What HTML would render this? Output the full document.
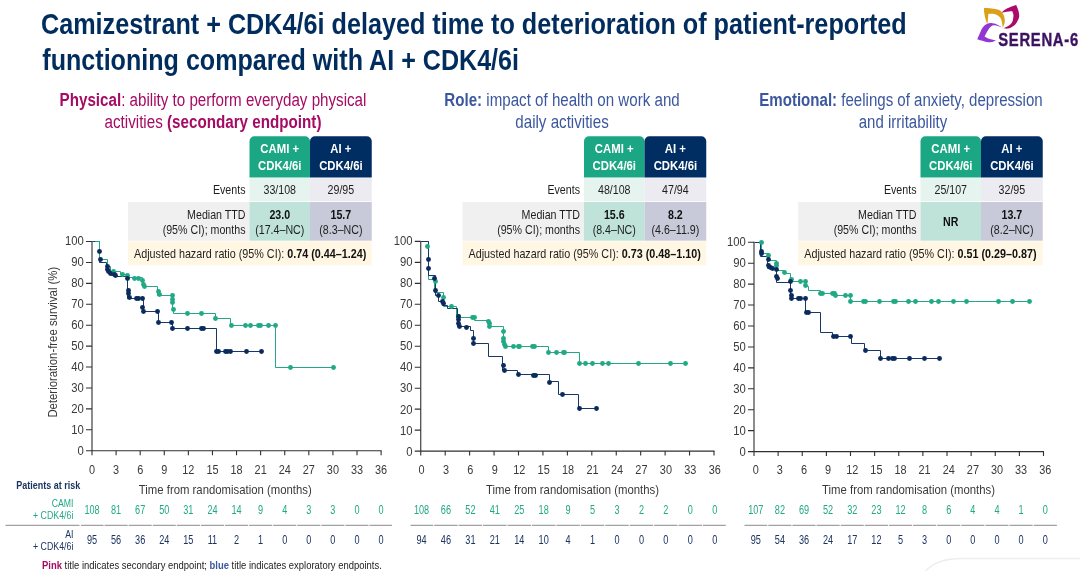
<!DOCTYPE html>
<html><head><meta charset="utf-8"><title>SERENA-6</title>
<style>html,body{margin:0;padding:0;background:#fff}body{width:1080px;height:571px;overflow:hidden}
svg{display:block;font-family:"Liberation Sans",Arial,sans-serif}</style></head>
<body><svg width="1080" height="571" viewBox="0 0 1080 571">
<text transform="translate(41.00 34.30) scale(0.8371 1)" font-size="30.1" text-anchor="start" fill="#012c5e"><tspan font-weight="700">Camizestrant + CDK4/6i delayed time to deterioration of patient-reported</tspan></text>
<text transform="translate(42.30 69.50) scale(0.8344 1)" font-size="30.1" text-anchor="start" fill="#012c5e"><tspan font-weight="700">functioning compared with AI + CDK4/6i</tspan></text>
<g id="logo">
<path d="M977.28 39.25C977.75 38.18 979.15 34.81 980.08 32.81C981.02 30.80 981.76 28.68 982.89 27.20C984.01 25.73 985.41 24.66 986.81 23.96C988.21 23.25 989.61 22.93 991.29 23.00C992.97 23.08 995.04 23.64 996.89 24.40C998.74 25.17 1001.47 27.06 1002.38 27.60C1001.65 27.32 999.49 26.30 998.01 25.92C996.54 25.53 994.84 25.08 993.53 25.30C992.22 25.51 991.20 26.23 990.17 27.20C989.14 28.18 988.30 29.59 987.37 31.13C986.43 32.67 985.03 35.56 984.57 36.45C985.31 36.82 987.09 38.04 989.05 38.69C991.01 39.34 995.12 40.09 996.33 40.37C995.68 40.65 994.00 41.80 992.41 42.05C990.82 42.30 988.67 42.14 986.81 41.88C984.94 41.62 982.79 40.92 981.20 40.48C979.62 40.04 977.94 39.45 977.28 39.25Z" fill="#9436d2"/>
<path d="M983.96 8.12C985.27 8.17 989.38 8.12 991.81 8.40C994.23 8.68 996.80 9.10 998.53 9.80C1000.26 10.50 1001.22 11.44 1002.17 12.61C1003.12 13.77 1003.82 15.17 1004.24 16.81C1004.66 18.44 1004.94 20.59 1004.69 22.41C1004.44 24.23 1003.06 26.84 1002.73 27.73C1002.61 26.84 1002.38 24.04 1002.00 22.41C1001.63 20.77 1001.26 19.12 1000.49 17.93C999.72 16.73 998.67 15.92 997.41 15.24C996.15 14.56 994.42 14.06 992.93 13.84C991.43 13.61 989.19 13.88 988.45 13.89C988.37 14.57 988.13 16.51 988.00 17.93C987.87 19.35 987.82 21.46 987.66 22.41C987.50 23.36 987.15 23.44 987.04 23.64C986.76 22.78 985.83 20.28 985.36 18.49C984.90 16.69 984.48 14.61 984.24 12.89C984.01 11.16 984.01 8.92 983.96 8.12Z" fill="#dba017"/>
<path d="M1001.89 12.21C1002.45 11.76 1003.76 10.44 1005.25 9.52C1006.75 8.61 1009.03 7.49 1010.85 6.72C1012.68 5.96 1015.29 5.23 1016.18 4.93C1016.52 5.79 1017.75 8.10 1018.25 10.08C1018.74 12.06 1019.40 14.75 1019.15 16.81C1018.89 18.86 1017.75 20.82 1016.74 22.41C1015.73 24.00 1014.54 25.30 1013.10 26.33C1011.65 27.36 1009.73 28.24 1008.05 28.57C1006.37 28.91 1003.85 28.38 1003.01 28.35C1003.94 27.92 1007.12 26.76 1008.61 25.77C1010.11 24.78 1011.21 23.72 1011.97 22.41C1012.74 21.10 1012.97 19.23 1013.21 17.93C1013.44 16.62 1013.53 15.69 1013.38 14.57C1013.22 13.45 1012.44 11.76 1012.25 11.20C1011.65 11.25 1009.78 11.35 1008.61 11.48C1007.45 11.62 1006.37 11.79 1005.25 11.99C1004.13 12.18 1002.45 12.55 1001.89 12.66Z" fill="#ab0a69"/>
</g>
<text transform="translate(998.2 45.6) scale(0.785 1)" font-size="18.9" font-weight="700" fill="#3c1361" stroke="#3c1361" stroke-width="0.4" letter-spacing="0.9">SERENA-6</text>
<text transform="translate(213.00 105.80) scale(0.8622 1)" font-size="17.6" text-anchor="middle" fill="#a50a64"><tspan font-weight="700">Physical</tspan>: ability to perform everyday physical</text>
<text transform="translate(213.00 127.60) scale(0.8634 1)" font-size="17.6" text-anchor="middle" fill="#a50a64">activities <tspan font-weight="700">(secondary endpoint)</tspan></text>
<path d="M249.5 177.5V141.25a5 5 0 0 1 5 -5H305a5 5 0 0 1 5 5V177.5Z" fill="#1ca784"/>
<path d="M310 177.5V141.25a5 5 0 0 1 5 -5H366.75a5 5 0 0 1 5 5V177.5Z" fill="#002d62"/>
<rect x="249.50" y="178.20" width="60.50" height="23.00" fill="#e6f4ef"/>
<rect x="310.00" y="178.20" width="61.75" height="23.00" fill="#ebebf1"/>
<rect x="128.00" y="202.00" width="121.50" height="38.70" fill="#f0f0f1"/>
<rect x="249.50" y="202.00" width="60.50" height="38.70" fill="#bfe3d9"/>
<rect x="310.00" y="202.00" width="61.75" height="38.70" fill="#c9cad9"/>
<rect x="128.00" y="241.30" width="243.75" height="24.00" fill="#fff7e3"/>
<text transform="translate(279.75 153.00) scale(0.8600 1)" font-size="13.2" text-anchor="middle" fill="#fff"><tspan font-weight="700">CAMI +</tspan></text>
<text transform="translate(279.75 170.00) scale(0.8600 1)" font-size="13.2" text-anchor="middle" fill="#fff"><tspan font-weight="700">CDK4/6i</tspan></text>
<text transform="translate(340.88 153.00) scale(0.8600 1)" font-size="13.2" text-anchor="middle" fill="#fff"><tspan font-weight="700">AI +</tspan></text>
<text transform="translate(340.88 170.00) scale(0.8600 1)" font-size="13.2" text-anchor="middle" fill="#fff"><tspan font-weight="700">CDK4/6i</tspan></text>
<text transform="translate(245.50 194.30) scale(0.8600 1)" font-size="12.4" text-anchor="end" fill="#1e1e1e">Events</text>
<text transform="translate(279.75 194.30) scale(0.8600 1)" font-size="12.4" text-anchor="middle" fill="#1e1e1e">33/108</text>
<text transform="translate(340.88 194.30) scale(0.8600 1)" font-size="12.4" text-anchor="middle" fill="#1e1e1e">29/95</text>
<text transform="translate(245.50 218.80) scale(0.8600 1)" font-size="12.4" text-anchor="end" fill="#1e1e1e">Median TTD</text>
<text transform="translate(245.50 233.80) scale(0.8600 1)" font-size="12.4" text-anchor="end" fill="#1e1e1e">(95% CI); months</text>
<text transform="translate(279.75 218.80) scale(0.8600 1)" font-size="12.4" text-anchor="middle" fill="#111"><tspan font-weight="700">23.0</tspan></text>
<text transform="translate(279.75 233.80) scale(0.8600 1)" font-size="12.4" text-anchor="middle" fill="#1e1e1e">(17.4–NC)</text>
<text transform="translate(340.88 218.80) scale(0.8600 1)" font-size="12.4" text-anchor="middle" fill="#111"><tspan font-weight="700">15.7</tspan></text>
<text transform="translate(340.88 233.80) scale(0.8600 1)" font-size="12.4" text-anchor="middle" fill="#1e1e1e">(8.3–NC)</text>
<text transform="translate(134.00 257.50) scale(0.8686 1)" font-size="12.4" text-anchor="start" fill="#1e1e1e">Adjusted hazard ratio (95% CI): <tspan font-weight="700" fill="#111">0.74 (0.44–1.24)</tspan></text>
<path d="M92.00 241.00V450.75M86.00 450.75H381.60" stroke="#303030" stroke-width="1.1" fill="none"/>
<text transform="translate(83.70 455.40) scale(0.8560 1)" font-size="13.2" text-anchor="end" fill="#3a3a3a">0</text>
<text transform="translate(83.70 434.35) scale(0.8560 1)" font-size="13.2" text-anchor="end" fill="#3a3a3a">10</text>
<text transform="translate(83.70 413.30) scale(0.8560 1)" font-size="13.2" text-anchor="end" fill="#3a3a3a">20</text>
<text transform="translate(83.70 392.25) scale(0.8560 1)" font-size="13.2" text-anchor="end" fill="#3a3a3a">30</text>
<text transform="translate(83.70 371.20) scale(0.8560 1)" font-size="13.2" text-anchor="end" fill="#3a3a3a">40</text>
<text transform="translate(83.70 350.15) scale(0.8560 1)" font-size="13.2" text-anchor="end" fill="#3a3a3a">50</text>
<text transform="translate(83.70 329.10) scale(0.8560 1)" font-size="13.2" text-anchor="end" fill="#3a3a3a">60</text>
<text transform="translate(83.70 308.05) scale(0.8560 1)" font-size="13.2" text-anchor="end" fill="#3a3a3a">70</text>
<text transform="translate(83.70 287.00) scale(0.8560 1)" font-size="13.2" text-anchor="end" fill="#3a3a3a">80</text>
<text transform="translate(83.70 265.95) scale(0.8560 1)" font-size="13.2" text-anchor="end" fill="#3a3a3a">90</text>
<text transform="translate(83.70 244.90) scale(0.8560 1)" font-size="13.2" text-anchor="end" fill="#3a3a3a">100</text>
<text transform="translate(92.00 473.90) scale(0.8270 1)" font-size="13.2" text-anchor="middle" fill="#3a3a3a">0</text>
<text transform="translate(92.00 513.70) scale(0.7500 1)" font-size="12.2" text-anchor="middle" fill="#21a985">108</text>
<text transform="translate(92.00 544.30) scale(0.7500 1)" font-size="12.2" text-anchor="middle" fill="#1d3461">95</text>
<text transform="translate(116.09 473.90) scale(0.8270 1)" font-size="13.2" text-anchor="middle" fill="#3a3a3a">3</text>
<text transform="translate(116.09 513.70) scale(0.7500 1)" font-size="12.2" text-anchor="middle" fill="#21a985">81</text>
<text transform="translate(116.09 544.30) scale(0.7500 1)" font-size="12.2" text-anchor="middle" fill="#1d3461">56</text>
<text transform="translate(140.18 473.90) scale(0.8270 1)" font-size="13.2" text-anchor="middle" fill="#3a3a3a">6</text>
<text transform="translate(140.18 513.70) scale(0.7500 1)" font-size="12.2" text-anchor="middle" fill="#21a985">67</text>
<text transform="translate(140.18 544.30) scale(0.7500 1)" font-size="12.2" text-anchor="middle" fill="#1d3461">36</text>
<text transform="translate(164.28 473.90) scale(0.8270 1)" font-size="13.2" text-anchor="middle" fill="#3a3a3a">9</text>
<text transform="translate(164.28 513.70) scale(0.7500 1)" font-size="12.2" text-anchor="middle" fill="#21a985">50</text>
<text transform="translate(164.28 544.30) scale(0.7500 1)" font-size="12.2" text-anchor="middle" fill="#1d3461">24</text>
<text transform="translate(188.37 473.90) scale(0.8270 1)" font-size="13.2" text-anchor="middle" fill="#3a3a3a">12</text>
<text transform="translate(188.37 513.70) scale(0.7500 1)" font-size="12.2" text-anchor="middle" fill="#21a985">31</text>
<text transform="translate(188.37 544.30) scale(0.7500 1)" font-size="12.2" text-anchor="middle" fill="#1d3461">15</text>
<text transform="translate(212.46 473.90) scale(0.8270 1)" font-size="13.2" text-anchor="middle" fill="#3a3a3a">15</text>
<text transform="translate(212.46 513.70) scale(0.7500 1)" font-size="12.2" text-anchor="middle" fill="#21a985">24</text>
<text transform="translate(212.46 544.30) scale(0.7500 1)" font-size="12.2" text-anchor="middle" fill="#1d3461">11</text>
<text transform="translate(236.55 473.90) scale(0.8270 1)" font-size="13.2" text-anchor="middle" fill="#3a3a3a">18</text>
<text transform="translate(236.55 513.70) scale(0.7500 1)" font-size="12.2" text-anchor="middle" fill="#21a985">14</text>
<text transform="translate(236.55 544.30) scale(0.7500 1)" font-size="12.2" text-anchor="middle" fill="#1d3461">2</text>
<text transform="translate(260.64 473.90) scale(0.8270 1)" font-size="13.2" text-anchor="middle" fill="#3a3a3a">21</text>
<text transform="translate(260.64 513.70) scale(0.7500 1)" font-size="12.2" text-anchor="middle" fill="#21a985">9</text>
<text transform="translate(260.64 544.30) scale(0.7500 1)" font-size="12.2" text-anchor="middle" fill="#1d3461">1</text>
<text transform="translate(284.73 473.90) scale(0.8270 1)" font-size="13.2" text-anchor="middle" fill="#3a3a3a">24</text>
<text transform="translate(284.73 513.70) scale(0.7500 1)" font-size="12.2" text-anchor="middle" fill="#21a985">4</text>
<text transform="translate(284.73 544.30) scale(0.7500 1)" font-size="12.2" text-anchor="middle" fill="#1d3461">0</text>
<text transform="translate(308.83 473.90) scale(0.8270 1)" font-size="13.2" text-anchor="middle" fill="#3a3a3a">27</text>
<text transform="translate(308.83 513.70) scale(0.7500 1)" font-size="12.2" text-anchor="middle" fill="#21a985">3</text>
<text transform="translate(308.83 544.30) scale(0.7500 1)" font-size="12.2" text-anchor="middle" fill="#1d3461">0</text>
<text transform="translate(332.92 473.90) scale(0.8270 1)" font-size="13.2" text-anchor="middle" fill="#3a3a3a">30</text>
<text transform="translate(332.92 513.70) scale(0.7500 1)" font-size="12.2" text-anchor="middle" fill="#21a985">3</text>
<text transform="translate(332.92 544.30) scale(0.7500 1)" font-size="12.2" text-anchor="middle" fill="#1d3461">0</text>
<text transform="translate(357.01 473.90) scale(0.8270 1)" font-size="13.2" text-anchor="middle" fill="#3a3a3a">33</text>
<text transform="translate(357.01 513.70) scale(0.7500 1)" font-size="12.2" text-anchor="middle" fill="#21a985">0</text>
<text transform="translate(357.01 544.30) scale(0.7500 1)" font-size="12.2" text-anchor="middle" fill="#1d3461">0</text>
<text transform="translate(381.10 473.90) scale(0.8270 1)" font-size="13.2" text-anchor="middle" fill="#3a3a3a">36</text>
<text transform="translate(381.10 513.70) scale(0.7500 1)" font-size="12.2" text-anchor="middle" fill="#21a985">0</text>
<text transform="translate(381.10 544.30) scale(0.7500 1)" font-size="12.2" text-anchor="middle" fill="#1d3461">0</text>
<path d="M86.00 429.82H92.00M86.00 408.90H92.00M86.00 387.98H92.00M86.00 367.05H92.00M86.00 346.12H92.00M86.00 325.20H92.00M86.00 304.27H92.00M86.00 283.35H92.00M86.00 262.43H92.00M86.00 241.50H92.00M92.00 450.75V455.25M116.09 450.75V455.25M140.18 450.75V455.25M164.28 450.75V455.25M188.37 450.75V455.25M212.46 450.75V455.25M236.55 450.75V455.25M260.64 450.75V455.25M284.73 450.75V455.25M308.83 450.75V455.25M332.92 450.75V455.25M357.01 450.75V455.25M381.10 450.75V455.25" stroke="#303030" stroke-width="1.1" fill="none"/>
<text transform="translate(225.25 493.90) scale(0.8662 1)" font-size="13.1" text-anchor="middle" fill="#3a3a3a">Time from randomisation (months)</text>
<path d="M81.00 525.3H103.55M104.55 525.3H127.64M128.64 525.3H151.73M152.73 525.3H175.82M176.82 525.3H199.91M200.91 525.3H224.00M225.00 525.3H248.10M249.10 525.3H272.19M273.19 525.3H296.28M297.28 525.3H320.37M321.37 525.3H344.46M345.46 525.3H368.55M369.55 525.3H392.00" stroke="#8a8a8a" stroke-width="1" fill="none"/>
<path d="M92.50 241.50H99.50V259.50H107.50V266.50H110.50V271.50H120.50V274.50H127.50V277.50H142.50V286.50H157.50V295.50H172.50V310.50H173.50V313.50H215.50V318.50H230.50V325.50H275.50V367.50H333.50" stroke="#21a985" stroke-width="1" fill="none"/>
<path d="M92.50 241.50H99.50V262.50H106.50V269.50H108.50V273.50H111.50V275.50H115.50V276.50H127.50V298.50H143.50V311.50H158.50V322.50H172.50V328.50H216.50V351.50H261.50" stroke="#17376a" stroke-width="1" fill="none"/>
<path d="M95 241.5H99.5V259.5" stroke="#21a985" stroke-width="1" fill="none"/>
<g fill="#21a985"><circle cx="113.5" cy="271.5" r="2.45"/><circle cx="122.5" cy="274.5" r="2.45"/><circle cx="127.5" cy="275.5" r="2.45"/><circle cx="134.5" cy="278.5" r="2.45"/><circle cx="138.5" cy="278.5" r="2.45"/><circle cx="142.5" cy="280.5" r="2.45"/><circle cx="143.5" cy="284.5" r="2.45"/><circle cx="144.5" cy="286.5" r="2.45"/><circle cx="158.5" cy="291.5" r="2.45"/><circle cx="159.5" cy="294.5" r="2.45"/><circle cx="172.5" cy="295.5" r="2.45"/><circle cx="172.5" cy="299.5" r="2.45"/><circle cx="172.5" cy="302.5" r="2.45"/><circle cx="173.5" cy="309.5" r="2.45"/><circle cx="187.5" cy="313.5" r="2.45"/><circle cx="201.5" cy="313.5" r="2.45"/><circle cx="215.5" cy="318.5" r="2.45"/><circle cx="231.5" cy="325.5" r="2.45"/><circle cx="245.5" cy="325.5" r="2.45"/><circle cx="250.5" cy="325.5" r="2.45"/><circle cx="258.5" cy="325.5" r="2.45"/><circle cx="260.5" cy="325.5" r="2.45"/><circle cx="268.5" cy="325.5" r="2.45"/><circle cx="275.5" cy="325.5" r="2.45"/><circle cx="290.5" cy="367.5" r="2.45"/><circle cx="333.5" cy="367.5" r="2.45"/></g><g fill="#0b2b5c"><circle cx="99.5" cy="251.5" r="2.45"/><circle cx="100.5" cy="259.5" r="2.45"/><circle cx="107.5" cy="266.5" r="2.45"/><circle cx="107.5" cy="269.5" r="2.45"/><circle cx="108.5" cy="271.5" r="2.45"/><circle cx="110.5" cy="273.5" r="2.45"/><circle cx="114.5" cy="274.5" r="2.45"/><circle cx="115.5" cy="275.5" r="2.45"/><circle cx="127.5" cy="278.5" r="2.45"/><circle cx="128.5" cy="290.5" r="2.45"/><circle cx="128.5" cy="293.5" r="2.45"/><circle cx="129.5" cy="297.5" r="2.45"/><circle cx="136.5" cy="298.5" r="2.45"/><circle cx="138.5" cy="298.5" r="2.45"/><circle cx="142.5" cy="298.5" r="2.45"/><circle cx="142.5" cy="307.5" r="2.45"/><circle cx="143.5" cy="311.5" r="2.45"/><circle cx="157.5" cy="311.5" r="2.45"/><circle cx="158.5" cy="322.5" r="2.45"/><circle cx="171.5" cy="322.5" r="2.45"/><circle cx="172.5" cy="328.5" r="2.45"/><circle cx="187.5" cy="328.5" r="2.45"/><circle cx="201.5" cy="328.5" r="2.45"/><circle cx="203.5" cy="328.5" r="2.45"/><circle cx="216.5" cy="351.5" r="2.45"/><circle cx="218.5" cy="351.5" r="2.45"/><circle cx="225.5" cy="351.5" r="2.45"/><circle cx="227.5" cy="351.5" r="2.45"/><circle cx="230.5" cy="351.5" r="2.45"/><circle cx="246.5" cy="351.5" r="2.45"/><circle cx="261.5" cy="351.5" r="2.45"/></g>
<text transform="translate(562.00 105.80) scale(0.8598 1)" font-size="17.6" text-anchor="middle" fill="#3b579d"><tspan font-weight="700">Role:</tspan> impact of health on work and</text>
<text transform="translate(562.00 127.60) scale(0.8612 1)" font-size="17.6" text-anchor="middle" fill="#3b579d">daily activities</text>
<path d="M584.0 177.5V141.25a5 5 0 0 1 5 -5H639.5a5 5 0 0 1 5 5V177.5Z" fill="#1ca784"/>
<path d="M644.5 177.5V141.25a5 5 0 0 1 5 -5H701.25a5 5 0 0 1 5 5V177.5Z" fill="#002d62"/>
<rect x="584.00" y="178.20" width="60.50" height="23.00" fill="#e6f4ef"/>
<rect x="644.50" y="178.20" width="61.75" height="23.00" fill="#ebebf1"/>
<rect x="462.50" y="202.00" width="121.50" height="38.70" fill="#f0f0f1"/>
<rect x="584.00" y="202.00" width="60.50" height="38.70" fill="#bfe3d9"/>
<rect x="644.50" y="202.00" width="61.75" height="38.70" fill="#c9cad9"/>
<rect x="462.50" y="241.30" width="243.75" height="24.00" fill="#fff7e3"/>
<text transform="translate(614.25 153.00) scale(0.8600 1)" font-size="13.2" text-anchor="middle" fill="#fff"><tspan font-weight="700">CAMI +</tspan></text>
<text transform="translate(614.25 170.00) scale(0.8600 1)" font-size="13.2" text-anchor="middle" fill="#fff"><tspan font-weight="700">CDK4/6i</tspan></text>
<text transform="translate(675.38 153.00) scale(0.8600 1)" font-size="13.2" text-anchor="middle" fill="#fff"><tspan font-weight="700">AI +</tspan></text>
<text transform="translate(675.38 170.00) scale(0.8600 1)" font-size="13.2" text-anchor="middle" fill="#fff"><tspan font-weight="700">CDK4/6i</tspan></text>
<text transform="translate(580.00 194.30) scale(0.8600 1)" font-size="12.4" text-anchor="end" fill="#1e1e1e">Events</text>
<text transform="translate(614.25 194.30) scale(0.8600 1)" font-size="12.4" text-anchor="middle" fill="#1e1e1e">48/108</text>
<text transform="translate(675.38 194.30) scale(0.8600 1)" font-size="12.4" text-anchor="middle" fill="#1e1e1e">47/94</text>
<text transform="translate(580.00 218.80) scale(0.8600 1)" font-size="12.4" text-anchor="end" fill="#1e1e1e">Median TTD</text>
<text transform="translate(580.00 233.80) scale(0.8600 1)" font-size="12.4" text-anchor="end" fill="#1e1e1e">(95% CI); months</text>
<text transform="translate(614.25 218.80) scale(0.8600 1)" font-size="12.4" text-anchor="middle" fill="#111"><tspan font-weight="700">15.6</tspan></text>
<text transform="translate(614.25 233.80) scale(0.8600 1)" font-size="12.4" text-anchor="middle" fill="#1e1e1e">(8.4–NC)</text>
<text transform="translate(675.38 218.80) scale(0.8600 1)" font-size="12.4" text-anchor="middle" fill="#111"><tspan font-weight="700">8.2</tspan></text>
<text transform="translate(675.38 233.80) scale(0.8600 1)" font-size="12.4" text-anchor="middle" fill="#1e1e1e">(4.6–11.9)</text>
<text transform="translate(468.50 257.50) scale(0.8686 1)" font-size="12.4" text-anchor="start" fill="#1e1e1e">Adjusted hazard ratio (95% CI): <tspan font-weight="700" fill="#111">0.73 (0.48–1.10)</tspan></text>
<path d="M420.75 240.90V451.10M414.75 451.10H714.50" stroke="#303030" stroke-width="1.1" fill="none"/>
<text transform="translate(412.45 455.75) scale(0.8560 1)" font-size="13.2" text-anchor="end" fill="#3a3a3a">0</text>
<text transform="translate(412.45 434.65) scale(0.8560 1)" font-size="13.2" text-anchor="end" fill="#3a3a3a">10</text>
<text transform="translate(412.45 413.56) scale(0.8560 1)" font-size="13.2" text-anchor="end" fill="#3a3a3a">20</text>
<text transform="translate(412.45 392.47) scale(0.8560 1)" font-size="13.2" text-anchor="end" fill="#3a3a3a">30</text>
<text transform="translate(412.45 371.37) scale(0.8560 1)" font-size="13.2" text-anchor="end" fill="#3a3a3a">40</text>
<text transform="translate(412.45 350.27) scale(0.8560 1)" font-size="13.2" text-anchor="end" fill="#3a3a3a">50</text>
<text transform="translate(412.45 329.18) scale(0.8560 1)" font-size="13.2" text-anchor="end" fill="#3a3a3a">60</text>
<text transform="translate(412.45 308.09) scale(0.8560 1)" font-size="13.2" text-anchor="end" fill="#3a3a3a">70</text>
<text transform="translate(412.45 286.99) scale(0.8560 1)" font-size="13.2" text-anchor="end" fill="#3a3a3a">80</text>
<text transform="translate(412.45 265.89) scale(0.8560 1)" font-size="13.2" text-anchor="end" fill="#3a3a3a">90</text>
<text transform="translate(412.45 244.80) scale(0.8560 1)" font-size="13.2" text-anchor="end" fill="#3a3a3a">100</text>
<text transform="translate(421.50 473.90) scale(0.8270 1)" font-size="13.2" text-anchor="middle" fill="#3a3a3a">0</text>
<text transform="translate(421.50 513.70) scale(0.7500 1)" font-size="12.2" text-anchor="middle" fill="#21a985">108</text>
<text transform="translate(421.50 544.30) scale(0.7500 1)" font-size="12.2" text-anchor="middle" fill="#1d3461">94</text>
<text transform="translate(445.94 473.90) scale(0.8270 1)" font-size="13.2" text-anchor="middle" fill="#3a3a3a">3</text>
<text transform="translate(445.94 513.70) scale(0.7500 1)" font-size="12.2" text-anchor="middle" fill="#21a985">66</text>
<text transform="translate(445.94 544.30) scale(0.7500 1)" font-size="12.2" text-anchor="middle" fill="#1d3461">46</text>
<text transform="translate(470.38 473.90) scale(0.8270 1)" font-size="13.2" text-anchor="middle" fill="#3a3a3a">6</text>
<text transform="translate(470.38 513.70) scale(0.7500 1)" font-size="12.2" text-anchor="middle" fill="#21a985">52</text>
<text transform="translate(470.38 544.30) scale(0.7500 1)" font-size="12.2" text-anchor="middle" fill="#1d3461">31</text>
<text transform="translate(494.81 473.90) scale(0.8270 1)" font-size="13.2" text-anchor="middle" fill="#3a3a3a">9</text>
<text transform="translate(494.81 513.70) scale(0.7500 1)" font-size="12.2" text-anchor="middle" fill="#21a985">41</text>
<text transform="translate(494.81 544.30) scale(0.7500 1)" font-size="12.2" text-anchor="middle" fill="#1d3461">21</text>
<text transform="translate(519.25 473.90) scale(0.8270 1)" font-size="13.2" text-anchor="middle" fill="#3a3a3a">12</text>
<text transform="translate(519.25 513.70) scale(0.7500 1)" font-size="12.2" text-anchor="middle" fill="#21a985">25</text>
<text transform="translate(519.25 544.30) scale(0.7500 1)" font-size="12.2" text-anchor="middle" fill="#1d3461">14</text>
<text transform="translate(543.69 473.90) scale(0.8270 1)" font-size="13.2" text-anchor="middle" fill="#3a3a3a">15</text>
<text transform="translate(543.69 513.70) scale(0.7500 1)" font-size="12.2" text-anchor="middle" fill="#21a985">18</text>
<text transform="translate(543.69 544.30) scale(0.7500 1)" font-size="12.2" text-anchor="middle" fill="#1d3461">10</text>
<text transform="translate(568.12 473.90) scale(0.8270 1)" font-size="13.2" text-anchor="middle" fill="#3a3a3a">18</text>
<text transform="translate(568.12 513.70) scale(0.7500 1)" font-size="12.2" text-anchor="middle" fill="#21a985">9</text>
<text transform="translate(568.12 544.30) scale(0.7500 1)" font-size="12.2" text-anchor="middle" fill="#1d3461">4</text>
<text transform="translate(592.56 473.90) scale(0.8270 1)" font-size="13.2" text-anchor="middle" fill="#3a3a3a">21</text>
<text transform="translate(592.56 513.70) scale(0.7500 1)" font-size="12.2" text-anchor="middle" fill="#21a985">5</text>
<text transform="translate(592.56 544.30) scale(0.7500 1)" font-size="12.2" text-anchor="middle" fill="#1d3461">1</text>
<text transform="translate(617.00 473.90) scale(0.8270 1)" font-size="13.2" text-anchor="middle" fill="#3a3a3a">24</text>
<text transform="translate(617.00 513.70) scale(0.7500 1)" font-size="12.2" text-anchor="middle" fill="#21a985">3</text>
<text transform="translate(617.00 544.30) scale(0.7500 1)" font-size="12.2" text-anchor="middle" fill="#1d3461">0</text>
<text transform="translate(641.44 473.90) scale(0.8270 1)" font-size="13.2" text-anchor="middle" fill="#3a3a3a">27</text>
<text transform="translate(641.44 513.70) scale(0.7500 1)" font-size="12.2" text-anchor="middle" fill="#21a985">2</text>
<text transform="translate(641.44 544.30) scale(0.7500 1)" font-size="12.2" text-anchor="middle" fill="#1d3461">0</text>
<text transform="translate(665.88 473.90) scale(0.8270 1)" font-size="13.2" text-anchor="middle" fill="#3a3a3a">30</text>
<text transform="translate(665.88 513.70) scale(0.7500 1)" font-size="12.2" text-anchor="middle" fill="#21a985">2</text>
<text transform="translate(665.88 544.30) scale(0.7500 1)" font-size="12.2" text-anchor="middle" fill="#1d3461">0</text>
<text transform="translate(690.31 473.90) scale(0.8270 1)" font-size="13.2" text-anchor="middle" fill="#3a3a3a">33</text>
<text transform="translate(690.31 513.70) scale(0.7500 1)" font-size="12.2" text-anchor="middle" fill="#21a985">0</text>
<text transform="translate(690.31 544.30) scale(0.7500 1)" font-size="12.2" text-anchor="middle" fill="#1d3461">0</text>
<text transform="translate(714.75 473.90) scale(0.8270 1)" font-size="13.2" text-anchor="middle" fill="#3a3a3a">36</text>
<text transform="translate(714.75 513.70) scale(0.7500 1)" font-size="12.2" text-anchor="middle" fill="#21a985">0</text>
<text transform="translate(714.75 544.30) scale(0.7500 1)" font-size="12.2" text-anchor="middle" fill="#1d3461">0</text>
<path d="M414.75 430.13H420.75M414.75 409.16H420.75M414.75 388.19H420.75M414.75 367.22H420.75M414.75 346.25H420.75M414.75 325.28H420.75M414.75 304.31H420.75M414.75 283.34H420.75M414.75 262.37H420.75M414.75 241.40H420.75M420.75 451.10V455.60M445.19 451.10V455.60M469.62 451.10V455.60M494.06 451.10V455.60M518.50 451.10V455.60M542.94 451.10V455.60M567.38 451.10V455.60M591.81 451.10V455.60M616.25 451.10V455.60M640.69 451.10V455.60M665.12 451.10V455.60M689.56 451.10V455.60M714.00 451.10V455.60" stroke="#303030" stroke-width="1.1" fill="none"/>
<text transform="translate(572.50 493.90) scale(0.8662 1)" font-size="13.1" text-anchor="middle" fill="#3a3a3a">Time from randomisation (months)</text>
<path d="M410.50 525.3H433.22M434.22 525.3H457.66M458.66 525.3H482.09M483.09 525.3H506.53M507.53 525.3H530.97M531.97 525.3H555.41M556.41 525.3H579.84M580.84 525.3H604.28M605.28 525.3H628.72M629.72 525.3H653.16M654.16 525.3H677.59M678.59 525.3H702.03M703.03 525.3H725.75" stroke="#8a8a8a" stroke-width="1" fill="none"/>
<path d="M420.50 241.50H428.50V279.50H434.50V292.50H443.50V306.50H456.50V317.50H474.50V320.50H488.50V326.50H503.50V346.50H548.50V352.50H579.50V363.50H685.50" stroke="#21a985" stroke-width="1" fill="none"/>
<path d="M420.50 241.50H428.50V275.50H435.50V295.50H438.50V301.50H442.50V305.50H447.50V308.50H457.50V326.50H470.50V330.50H473.50V343.50H488.50V356.50H502.50V370.50H517.50V374.50H549.50V381.50H558.50V394.50H578.50V408.50H596.50" stroke="#17376a" stroke-width="1" fill="none"/>
<g fill="#21a985"><circle cx="427.5" cy="246.5" r="2.45"/><circle cx="435.5" cy="281.5" r="2.45"/><circle cx="443.5" cy="297.5" r="2.45"/><circle cx="451.5" cy="306.5" r="2.45"/><circle cx="458.5" cy="316.5" r="2.45"/><circle cx="472.5" cy="317.5" r="2.45"/><circle cx="474.5" cy="317.5" r="2.45"/><circle cx="488.5" cy="321.5" r="2.45"/><circle cx="489.5" cy="323.5" r="2.45"/><circle cx="489.5" cy="326.5" r="2.45"/><circle cx="503.5" cy="331.5" r="2.45"/><circle cx="503.5" cy="338.5" r="2.45"/><circle cx="503.5" cy="341.5" r="2.45"/><circle cx="504.5" cy="344.5" r="2.45"/><circle cx="505.5" cy="346.5" r="2.45"/><circle cx="513.5" cy="346.5" r="2.45"/><circle cx="518.5" cy="346.5" r="2.45"/><circle cx="519.5" cy="346.5" r="2.45"/><circle cx="532.5" cy="346.5" r="2.45"/><circle cx="534.5" cy="346.5" r="2.45"/><circle cx="548.5" cy="352.5" r="2.45"/><circle cx="556.5" cy="352.5" r="2.45"/><circle cx="563.5" cy="352.5" r="2.45"/><circle cx="564.5" cy="352.5" r="2.45"/><circle cx="579.5" cy="363.5" r="2.45"/><circle cx="585.5" cy="363.5" r="2.45"/><circle cx="592.5" cy="363.5" r="2.45"/><circle cx="602.5" cy="363.5" r="2.45"/><circle cx="608.5" cy="363.5" r="2.45"/><circle cx="638.5" cy="363.5" r="2.45"/><circle cx="670.5" cy="363.5" r="2.45"/><circle cx="685.5" cy="363.5" r="2.45"/></g><g fill="#0b2b5c"><circle cx="428.5" cy="259.5" r="2.45"/><circle cx="428.5" cy="268.5" r="2.45"/><circle cx="434.5" cy="278.5" r="2.45"/><circle cx="435.5" cy="290.5" r="2.45"/><circle cx="438.5" cy="295.5" r="2.45"/><circle cx="442.5" cy="301.5" r="2.45"/><circle cx="443.5" cy="303.5" r="2.45"/><circle cx="458.5" cy="316.5" r="2.45"/><circle cx="458.5" cy="319.5" r="2.45"/><circle cx="458.5" cy="323.5" r="2.45"/><circle cx="459.5" cy="326.5" r="2.45"/><circle cx="466.5" cy="327.5" r="2.45"/><circle cx="473.5" cy="338.5" r="2.45"/><circle cx="473.5" cy="343.5" r="2.45"/><circle cx="503.5" cy="365.5" r="2.45"/><circle cx="504.5" cy="370.5" r="2.45"/><circle cx="518.5" cy="374.5" r="2.45"/><circle cx="533.5" cy="375.5" r="2.45"/><circle cx="535.5" cy="375.5" r="2.45"/><circle cx="549.5" cy="382.5" r="2.45"/><circle cx="562.5" cy="394.5" r="2.45"/><circle cx="579.5" cy="408.5" r="2.45"/><circle cx="596.5" cy="408.5" r="2.45"/></g>
<text transform="translate(901.00 105.80) scale(0.8558 1)" font-size="17.6" text-anchor="middle" fill="#3b579d"><tspan font-weight="700">Emotional:</tspan> feelings of anxiety, depression</text>
<text transform="translate(903.00 127.60) scale(0.8535 1)" font-size="17.6" text-anchor="middle" fill="#3b579d">and irritability</text>
<path d="M920.5 177.5V141.25a5 5 0 0 1 5 -5H976a5 5 0 0 1 5 5V177.5Z" fill="#1ca784"/>
<path d="M981 177.5V141.25a5 5 0 0 1 5 -5H1037.75a5 5 0 0 1 5 5V177.5Z" fill="#002d62"/>
<rect x="920.50" y="178.20" width="60.50" height="23.00" fill="#e6f4ef"/>
<rect x="981.00" y="178.20" width="61.75" height="23.00" fill="#ebebf1"/>
<rect x="798.25" y="202.00" width="122.25" height="38.70" fill="#f0f0f1"/>
<rect x="920.50" y="202.00" width="60.50" height="38.70" fill="#bfe3d9"/>
<rect x="981.00" y="202.00" width="61.75" height="38.70" fill="#c9cad9"/>
<rect x="798.25" y="241.30" width="244.50" height="24.00" fill="#fff7e3"/>
<text transform="translate(950.75 153.00) scale(0.8600 1)" font-size="13.2" text-anchor="middle" fill="#fff"><tspan font-weight="700">CAMI +</tspan></text>
<text transform="translate(950.75 170.00) scale(0.8600 1)" font-size="13.2" text-anchor="middle" fill="#fff"><tspan font-weight="700">CDK4/6i</tspan></text>
<text transform="translate(1011.88 153.00) scale(0.8600 1)" font-size="13.2" text-anchor="middle" fill="#fff"><tspan font-weight="700">AI +</tspan></text>
<text transform="translate(1011.88 170.00) scale(0.8600 1)" font-size="13.2" text-anchor="middle" fill="#fff"><tspan font-weight="700">CDK4/6i</tspan></text>
<text transform="translate(916.50 194.30) scale(0.8600 1)" font-size="12.4" text-anchor="end" fill="#1e1e1e">Events</text>
<text transform="translate(950.75 194.30) scale(0.8600 1)" font-size="12.4" text-anchor="middle" fill="#1e1e1e">25/107</text>
<text transform="translate(1011.88 194.30) scale(0.8600 1)" font-size="12.4" text-anchor="middle" fill="#1e1e1e">32/95</text>
<text transform="translate(916.50 218.80) scale(0.8600 1)" font-size="12.4" text-anchor="end" fill="#1e1e1e">Median TTD</text>
<text transform="translate(916.50 233.80) scale(0.8600 1)" font-size="12.4" text-anchor="end" fill="#1e1e1e">(95% CI); months</text>
<text transform="translate(950.75 226.00) scale(0.8600 1)" font-size="12.4" text-anchor="middle" fill="#111"><tspan font-weight="700">NR</tspan></text>
<text transform="translate(1011.88 218.80) scale(0.8600 1)" font-size="12.4" text-anchor="middle" fill="#111"><tspan font-weight="700">13.7</tspan></text>
<text transform="translate(1011.88 233.80) scale(0.8600 1)" font-size="12.4" text-anchor="middle" fill="#1e1e1e">(8.2–NC)</text>
<text transform="translate(804.25 257.50) scale(0.8686 1)" font-size="12.4" text-anchor="start" fill="#1e1e1e">Adjusted hazard ratio (95% CI): <tspan font-weight="700" fill="#111">0.51 (0.29–0.87)</tspan></text>
<path d="M754.00 241.75V451.60M748.00 451.60H1044.00" stroke="#303030" stroke-width="1.1" fill="none"/>
<text transform="translate(745.70 456.25) scale(0.8560 1)" font-size="13.2" text-anchor="end" fill="#3a3a3a">0</text>
<text transform="translate(745.70 435.19) scale(0.8560 1)" font-size="13.2" text-anchor="end" fill="#3a3a3a">10</text>
<text transform="translate(745.70 414.13) scale(0.8560 1)" font-size="13.2" text-anchor="end" fill="#3a3a3a">20</text>
<text transform="translate(745.70 393.07) scale(0.8560 1)" font-size="13.2" text-anchor="end" fill="#3a3a3a">30</text>
<text transform="translate(745.70 372.01) scale(0.8560 1)" font-size="13.2" text-anchor="end" fill="#3a3a3a">40</text>
<text transform="translate(745.70 350.95) scale(0.8560 1)" font-size="13.2" text-anchor="end" fill="#3a3a3a">50</text>
<text transform="translate(745.70 329.89) scale(0.8560 1)" font-size="13.2" text-anchor="end" fill="#3a3a3a">60</text>
<text transform="translate(745.70 308.83) scale(0.8560 1)" font-size="13.2" text-anchor="end" fill="#3a3a3a">70</text>
<text transform="translate(745.70 287.77) scale(0.8560 1)" font-size="13.2" text-anchor="end" fill="#3a3a3a">80</text>
<text transform="translate(745.70 266.71) scale(0.8560 1)" font-size="13.2" text-anchor="end" fill="#3a3a3a">90</text>
<text transform="translate(745.70 245.65) scale(0.8560 1)" font-size="13.2" text-anchor="end" fill="#3a3a3a">100</text>
<text transform="translate(755.75 473.90) scale(0.8270 1)" font-size="13.2" text-anchor="middle" fill="#3a3a3a">0</text>
<text transform="translate(755.75 513.70) scale(0.7500 1)" font-size="12.2" text-anchor="middle" fill="#21a985">107</text>
<text transform="translate(755.75 544.30) scale(0.7500 1)" font-size="12.2" text-anchor="middle" fill="#1d3461">95</text>
<text transform="translate(779.88 473.90) scale(0.8270 1)" font-size="13.2" text-anchor="middle" fill="#3a3a3a">3</text>
<text transform="translate(779.88 513.70) scale(0.7500 1)" font-size="12.2" text-anchor="middle" fill="#21a985">82</text>
<text transform="translate(779.88 544.30) scale(0.7500 1)" font-size="12.2" text-anchor="middle" fill="#1d3461">54</text>
<text transform="translate(804.00 473.90) scale(0.8270 1)" font-size="13.2" text-anchor="middle" fill="#3a3a3a">6</text>
<text transform="translate(804.00 513.70) scale(0.7500 1)" font-size="12.2" text-anchor="middle" fill="#21a985">69</text>
<text transform="translate(804.00 544.30) scale(0.7500 1)" font-size="12.2" text-anchor="middle" fill="#1d3461">36</text>
<text transform="translate(828.12 473.90) scale(0.8270 1)" font-size="13.2" text-anchor="middle" fill="#3a3a3a">9</text>
<text transform="translate(828.12 513.70) scale(0.7500 1)" font-size="12.2" text-anchor="middle" fill="#21a985">52</text>
<text transform="translate(828.12 544.30) scale(0.7500 1)" font-size="12.2" text-anchor="middle" fill="#1d3461">24</text>
<text transform="translate(852.25 473.90) scale(0.8270 1)" font-size="13.2" text-anchor="middle" fill="#3a3a3a">12</text>
<text transform="translate(852.25 513.70) scale(0.7500 1)" font-size="12.2" text-anchor="middle" fill="#21a985">32</text>
<text transform="translate(852.25 544.30) scale(0.7500 1)" font-size="12.2" text-anchor="middle" fill="#1d3461">17</text>
<text transform="translate(876.38 473.90) scale(0.8270 1)" font-size="13.2" text-anchor="middle" fill="#3a3a3a">15</text>
<text transform="translate(876.38 513.70) scale(0.7500 1)" font-size="12.2" text-anchor="middle" fill="#21a985">23</text>
<text transform="translate(876.38 544.30) scale(0.7500 1)" font-size="12.2" text-anchor="middle" fill="#1d3461">12</text>
<text transform="translate(900.50 473.90) scale(0.8270 1)" font-size="13.2" text-anchor="middle" fill="#3a3a3a">18</text>
<text transform="translate(900.50 513.70) scale(0.7500 1)" font-size="12.2" text-anchor="middle" fill="#21a985">12</text>
<text transform="translate(900.50 544.30) scale(0.7500 1)" font-size="12.2" text-anchor="middle" fill="#1d3461">5</text>
<text transform="translate(924.62 473.90) scale(0.8270 1)" font-size="13.2" text-anchor="middle" fill="#3a3a3a">21</text>
<text transform="translate(924.62 513.70) scale(0.7500 1)" font-size="12.2" text-anchor="middle" fill="#21a985">8</text>
<text transform="translate(924.62 544.30) scale(0.7500 1)" font-size="12.2" text-anchor="middle" fill="#1d3461">3</text>
<text transform="translate(948.75 473.90) scale(0.8270 1)" font-size="13.2" text-anchor="middle" fill="#3a3a3a">24</text>
<text transform="translate(948.75 513.70) scale(0.7500 1)" font-size="12.2" text-anchor="middle" fill="#21a985">6</text>
<text transform="translate(948.75 544.30) scale(0.7500 1)" font-size="12.2" text-anchor="middle" fill="#1d3461">0</text>
<text transform="translate(972.88 473.90) scale(0.8270 1)" font-size="13.2" text-anchor="middle" fill="#3a3a3a">27</text>
<text transform="translate(972.88 513.70) scale(0.7500 1)" font-size="12.2" text-anchor="middle" fill="#21a985">4</text>
<text transform="translate(972.88 544.30) scale(0.7500 1)" font-size="12.2" text-anchor="middle" fill="#1d3461">0</text>
<text transform="translate(997.00 473.90) scale(0.8270 1)" font-size="13.2" text-anchor="middle" fill="#3a3a3a">30</text>
<text transform="translate(997.00 513.70) scale(0.7500 1)" font-size="12.2" text-anchor="middle" fill="#21a985">4</text>
<text transform="translate(997.00 544.30) scale(0.7500 1)" font-size="12.2" text-anchor="middle" fill="#1d3461">0</text>
<text transform="translate(1021.12 473.90) scale(0.8270 1)" font-size="13.2" text-anchor="middle" fill="#3a3a3a">33</text>
<text transform="translate(1021.12 513.70) scale(0.7500 1)" font-size="12.2" text-anchor="middle" fill="#21a985">1</text>
<text transform="translate(1021.12 544.30) scale(0.7500 1)" font-size="12.2" text-anchor="middle" fill="#1d3461">0</text>
<text transform="translate(1045.25 473.90) scale(0.8270 1)" font-size="13.2" text-anchor="middle" fill="#3a3a3a">36</text>
<text transform="translate(1045.25 513.70) scale(0.7500 1)" font-size="12.2" text-anchor="middle" fill="#21a985">0</text>
<text transform="translate(1045.25 544.30) scale(0.7500 1)" font-size="12.2" text-anchor="middle" fill="#1d3461">0</text>
<path d="M748.00 430.67H754.00M748.00 409.73H754.00M748.00 388.80H754.00M748.00 367.86H754.00M748.00 346.93H754.00M748.00 325.99H754.00M748.00 305.06H754.00M748.00 284.12H754.00M748.00 263.19H754.00M748.00 242.25H754.00M754.00 451.60V456.10M778.12 451.60V456.10M802.25 451.60V456.10M826.38 451.60V456.10M850.50 451.60V456.10M874.62 451.60V456.10M898.75 451.60V456.10M922.88 451.60V456.10M947.00 451.60V456.10M971.12 451.60V456.10M995.25 451.60V456.10M1019.38 451.60V456.10M1043.50 451.60V456.10" stroke="#303030" stroke-width="1.1" fill="none"/>
<text transform="translate(908.50 493.90) scale(0.8662 1)" font-size="13.1" text-anchor="middle" fill="#3a3a3a">Time from randomisation (months)</text>
<path d="M744.50 525.3H767.31M768.31 525.3H791.44M792.44 525.3H815.56M816.56 525.3H839.69M840.69 525.3H863.81M864.81 525.3H887.94M888.94 525.3H912.06M913.06 525.3H936.19M937.19 525.3H960.31M961.31 525.3H984.44M985.44 525.3H1008.56M1009.56 525.3H1032.69M1033.69 525.3H1056.90" stroke="#8a8a8a" stroke-width="1" fill="none"/>
<path d="M754.50 242.50H761.50V253.50H768.50V260.50H776.50V270.50H783.50V273.50H790.50V281.50H805.50V286.50H808.50V290.50H820.50V293.50H835.50V295.50H850.50V301.50H1029.50" stroke="#21a985" stroke-width="1" fill="none"/>
<path d="M754.50 242.50H760.50V256.50H767.50V268.50H776.50V282.50H790.50V298.50H805.50V312.50H820.50V332.50H832.50V336.50H851.50V343.50H864.50V350.50H880.50V358.50H939.50" stroke="#17376a" stroke-width="1" fill="none"/>
<g fill="#21a985"><circle cx="761.5" cy="242.5" r="2.45"/><circle cx="768.5" cy="255.5" r="2.45"/><circle cx="776.5" cy="263.5" r="2.45"/><circle cx="776.5" cy="265.5" r="2.45"/><circle cx="784.5" cy="272.5" r="2.45"/><circle cx="791.5" cy="279.5" r="2.45"/><circle cx="800.5" cy="281.5" r="2.45"/><circle cx="805.5" cy="281.5" r="2.45"/><circle cx="805.5" cy="285.5" r="2.45"/><circle cx="820.5" cy="293.5" r="2.45"/><circle cx="822.5" cy="293.5" r="2.45"/><circle cx="832.5" cy="293.5" r="2.45"/><circle cx="834.5" cy="293.5" r="2.45"/><circle cx="835.5" cy="295.5" r="2.45"/><circle cx="845.5" cy="295.5" r="2.45"/><circle cx="850.5" cy="295.5" r="2.45"/><circle cx="850.5" cy="301.5" r="2.45"/><circle cx="863.5" cy="301.5" r="2.45"/><circle cx="865.5" cy="301.5" r="2.45"/><circle cx="879.5" cy="301.5" r="2.45"/><circle cx="893.5" cy="301.5" r="2.45"/><circle cx="895.5" cy="301.5" r="2.45"/><circle cx="908.5" cy="301.5" r="2.45"/><circle cx="915.5" cy="301.5" r="2.45"/><circle cx="931.5" cy="301.5" r="2.45"/><circle cx="938.5" cy="301.5" r="2.45"/><circle cx="953.5" cy="301.5" r="2.45"/><circle cx="966.5" cy="301.5" r="2.45"/><circle cx="998.5" cy="301.5" r="2.45"/><circle cx="1012.5" cy="301.5" r="2.45"/><circle cx="1029.5" cy="301.5" r="2.45"/></g><g fill="#0b2b5c"><circle cx="761.5" cy="251.5" r="2.45"/><circle cx="761.5" cy="253.5" r="2.45"/><circle cx="768.5" cy="259.5" r="2.45"/><circle cx="768.5" cy="265.5" r="2.45"/><circle cx="770.5" cy="267.5" r="2.45"/><circle cx="772.5" cy="268.5" r="2.45"/><circle cx="776.5" cy="269.5" r="2.45"/><circle cx="776.5" cy="276.5" r="2.45"/><circle cx="777.5" cy="278.5" r="2.45"/><circle cx="790.5" cy="281.5" r="2.45"/><circle cx="790.5" cy="290.5" r="2.45"/><circle cx="791.5" cy="295.5" r="2.45"/><circle cx="791.5" cy="298.5" r="2.45"/><circle cx="798.5" cy="298.5" r="2.45"/><circle cx="800.5" cy="298.5" r="2.45"/><circle cx="805.5" cy="298.5" r="2.45"/><circle cx="806.5" cy="312.5" r="2.45"/><circle cx="808.5" cy="312.5" r="2.45"/><circle cx="833.5" cy="336.5" r="2.45"/><circle cx="836.5" cy="336.5" r="2.45"/><circle cx="850.5" cy="336.5" r="2.45"/><circle cx="865.5" cy="350.5" r="2.45"/><circle cx="880.5" cy="358.5" r="2.45"/><circle cx="888.5" cy="358.5" r="2.45"/><circle cx="892.5" cy="358.5" r="2.45"/><circle cx="894.5" cy="358.5" r="2.45"/><circle cx="909.5" cy="358.5" r="2.45"/><circle cx="924.5" cy="358.5" r="2.45"/><circle cx="939.5" cy="358.5" r="2.45"/></g>
<path d="M5.5 525.3H79.5" stroke="#8a8a8a" stroke-width="1" fill="none"/>
<text transform="translate(56.60 342.20) rotate(-90) scale(0.8421 1)" font-size="13.5" text-anchor="middle" fill="#3a3a3a">Deterioration-free survival (%)</text>
<text transform="translate(16.20 488.90) scale(0.8487 1)" font-size="10.6" text-anchor="start" fill="#1d3461"><tspan font-weight="700">Patients at risk</tspan></text>
<text transform="translate(73.40 506.70) scale(0.7500 1)" font-size="11.6" text-anchor="end" fill="#21a985">CAMI</text>
<text transform="translate(73.40 519.10) scale(0.7600 1)" font-size="11.6" text-anchor="end" fill="#21a985">+ CDK4/6i</text>
<text transform="translate(73.40 537.80) scale(0.7500 1)" font-size="11.6" text-anchor="end" fill="#1d3461">AI</text>
<text transform="translate(73.40 550.30) scale(0.7600 1)" font-size="11.6" text-anchor="end" fill="#1d3461">+ CDK4/6i</text>
<text transform="translate(42.00 569.00) scale(0.9268 1)" font-size="10.2" text-anchor="start" fill="#222"><tspan font-weight="700" fill="#a50a64">Pink</tspan> title indicates secondary endpoint; <tspan font-weight="700" fill="#3b579d">blue</tspan> title indicates exploratory endpoints.</text>
<path d="M925 572C932 563 945 558.5 962 558.5H1081" stroke="#eeeeee" stroke-width="1.6" fill="none"/>
</svg></body></html>
